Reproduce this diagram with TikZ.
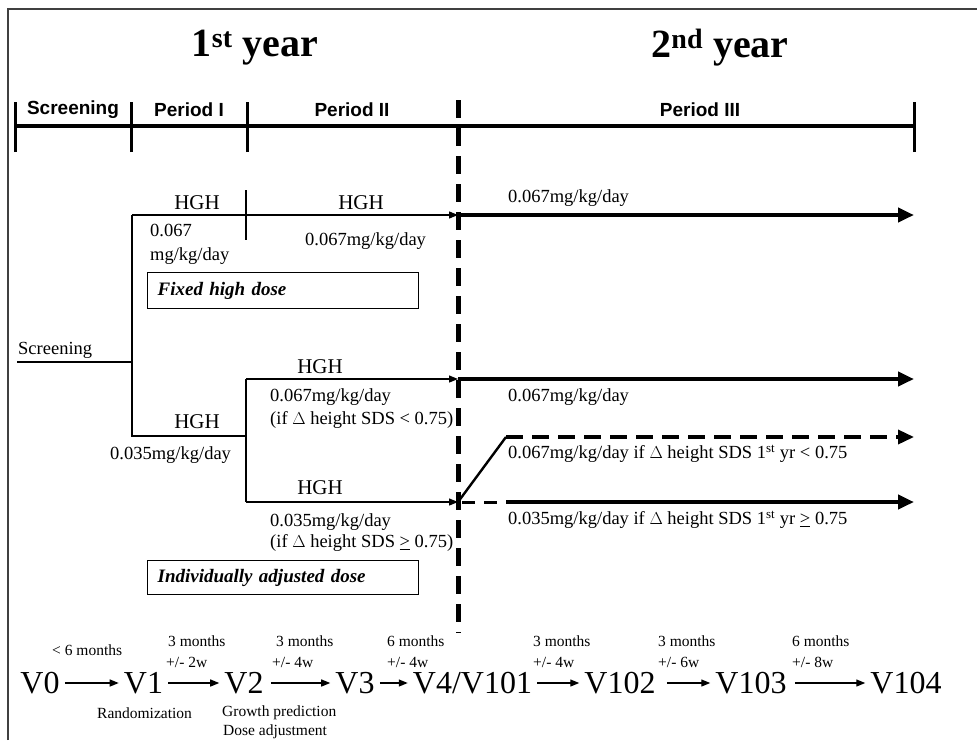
\documentclass[tikz,border=0pt]{standalone}
\usepackage{fontspec}
\setmainfont{Liberation Serif}
\setsansfont{Liberation Sans}
\usetikzlibrary{arrows.meta}
\begin{document}
\begin{tikzpicture}[x=1pt,y=-1pt,
  thinline/.style={line width=1.3pt},
  thinarrow/.style={line width=1.3pt,-{Triangle[length=9pt,width=7pt]}},
  fatline/.style={line width=4pt},
  fatarrow/.style={line width=4pt,-{Triangle[length=16pt,width=14pt]}},
  txt/.style={inner sep=0pt,anchor=west,font=\fontsize{18.5}{23}\selectfont},
  hgh/.style={inner sep=0pt,font=\fontsize{21}{25}\selectfont},
  yearlbl/.style={inner sep=0pt,font=\fontsize{40}{44}\selectfont\bfseries},
  perlbl/.style={inner sep=0pt,font=\fontsize{19}{21}\sffamily\bfseries},
  doselbl/.style={draw,line width=1.3pt,anchor=north west,inner xsep=10pt,inner ysep=0pt,
     text width=251pt,align=left,font=\fontsize{19}{22}\selectfont\bfseries\itshape},
  visit/.style={inner xsep=5pt,inner ysep=0pt,font=\fontsize{32}{36}\selectfont},
  small/.style={inner sep=0pt,anchor=west,font=\fontsize{15.5}{18}\selectfont},
  varrow/.style={line width=1.3pt,-{Triangle[length=9pt,width=7pt]}}
]
\useasboundingbox (0,0) rectangle (977,740);
% frame
\draw[line width=2pt,black!75] (8,740) -- (8,9) -- (977,9);

% headers
\node[yearlbl] (y1) at (255,48) {1\textsuperscript{st} year};
\node[yearlbl] (y2) at (720,48) {2\textsuperscript{nd} year};

% period bar
\coordinate (b0) at (15,126);
\coordinate (b1) at (131,126);
\coordinate (b2) at (247,126);
\coordinate (b3) at (458,126);
\coordinate (b4) at (914,126);
\draw[line width=4pt] (b0) -- (b4);
\foreach \c in {b0,b1,b2,b4}{\draw[line width=3pt] ([yshift=-26pt]\c) -- ([yshift=24pt]\c);}
\node[perlbl] (pS) at (73,110) {Screening};
\node[perlbl] (pI) at (189,110) {Period I};
\node[perlbl] (pII) at (352,110) {Period II};
\node[perlbl] (pIII) at (700,110) {Period III};

% dashed divider
\coordinate (dTop) at (458,100);
\coordinate (dBot) at (458,633);
\draw[line width=5pt,dash pattern=on 18pt off 10pt] (dTop) -- (dBot);

% screening branch
\node[txt,font=\fontsize{18.5}{22}\selectfont] (scr) at (18,350) {Screening};
\coordinate (s0) at (17,362);
\coordinate (J) at (132,362);
\coordinate (T) at (132,215);
\coordinate (M) at (132,436);
\coordinate (M2) at (246,436);
\coordinate (U) at (246,379);
\coordinate (L) at (246,502);
\coordinate (A1) at (458,215);
\coordinate (A2) at (458,379);
\coordinate (A3) at (458,502);
\coordinate (E1) at (914,215);
\coordinate (E2) at (914,379);
\coordinate (E3) at (914,437);
\coordinate (E4) at (914,502);
\coordinate (K) at (506,437);
\coordinate (S) at (506,502);
\coordinate (dv1) at (246,190);
\coordinate (dv2) at (246,240);

\draw[thinline] (s0) -- (J);
\draw[thinline] (T) -- (M) -- (M2);
\draw[thinline] (U) -- (L);
\draw[thinline] (dv1) -- (dv2);
\draw[thinarrow] (T) -- (A1);
\draw[thinarrow] (U) -- (A2);
\draw[thinarrow] (L) -- (A3);
\draw[fatarrow] (A1) -- (E1);
\draw[fatarrow] (A2) -- (E2);
\draw[line width=2.4pt] (A3) -- (K);
\draw[line width=3.5pt,dash pattern=on 17pt off 9pt,-{Triangle[length=16pt,width=14pt]}] (K) -- (E3);
\draw[line width=3pt,dash pattern=on 13pt off 9pt] ([xshift=4pt]A3) -- (S);
\draw[fatarrow] (S) -- (E4);

% texts fixed high dose
\node[hgh] (h1) at (197,203) {HGH};
\node[hgh] (h2) at (361,203) {HGH};
\node[txt,align=left,font=\fontsize{18.5}{24}\selectfont] (d1) at (150,244) {0.067\\mg/kg/day};
\node[txt] (d2) at (305,241) {0.067mg/kg/day};
\node[doselbl,minimum height=36pt] (box1) at (147,272) {Fixed high dose};
\node[txt] (r1) at (508,198) {0.067mg/kg/day};

% individually adjusted
\node[hgh] (h3) at (197,422) {HGH};
\node[txt] (d3) at (110,455) {0.035mg/kg/day};
\node[hgh] (h4) at (320,367) {HGH};
\node[txt,align=left,font=\fontsize{18.5}{23}\selectfont] (d4) at (270,408.5) {0.067mg/kg/day\\(if $\Delta$ height SDS < 0.75)};
\node[hgh] (h5) at (320,488) {HGH};
\node[txt,align=left,font=\fontsize{18.5}{21}\selectfont] (d5) at (270,532.5) {0.035mg/kg/day\\(if $\Delta$ height SDS \underline{>} 0.75)};
\node[doselbl,minimum height=34pt] (box2) at (147,560) {Individually adjusted dose};

\node[txt] (r2) at (508,397) {0.067mg/kg/day};
\node[txt] (r3) at (508,454) {0.067mg/kg/day if $\Delta$ height SDS 1\textsuperscript{st} yr < 0.75};
\node[txt] (r4) at (508,520) {0.035mg/kg/day if $\Delta$ height SDS 1\textsuperscript{st} yr \underline{>} 0.75};

% visits
\node[visit] (v0) at (40,683) {V0};
\node[visit] (v1) at (143.5,683) {V1};
\node[visit] (v2) at (244,683) {V2};
\node[visit] (v3) at (355,683) {V3};
\node[visit] (v4) at (472.5,683) {V4/V101};
\node[visit] (v5) at (620,683) {V102};
\node[visit] (v6) at (751,683) {V103};
\node[visit] (v7) at (906,683) {V104};
\draw[varrow] (v0) -- (v1);
\draw[varrow] (v1) -- (v2);
\draw[varrow,shorten <=2pt] (v2) -- (v3);
\draw[varrow] (v3) -- (v4);
\draw[varrow] (v4) -- (v5);
\draw[varrow,shorten <=6pt] (v5) -- (v6);
\draw[varrow,shorten <=3pt] (v6) -- (v7);

\node[small] (i0) at (52,650) {< 6 months};
\node[small] (i1a) at (168,641) {3 months};
\node[small] (i1b) at (166,662) {+/- 2w};
\node[small] (i2a) at (276,641) {3 months};
\node[small] (i2b) at (272,662) {+/- 4w};
\node[small] (i3a) at (387,641) {6 months};
\node[small] (i3b) at (387,662) {+/- 4w};
\node[small] (i4a) at (533,641) {3 months};
\node[small] (i4b) at (533,662) {+/- 4w};
\node[small] (i5a) at (658,641) {3 months};
\node[small] (i5b) at (658,662) {+/- 6w};
\node[small] (i6a) at (792,641) {6 months};
\node[small] (i6b) at (792,662) {+/- 8w};

\node[small] (n1) at (97,713) {Randomization};
\node[small] (n2) at (222,713) {Growth prediction};
\node[small] (n3) at (223,732) {Dose adjustment};
\end{tikzpicture}
\end{document}
